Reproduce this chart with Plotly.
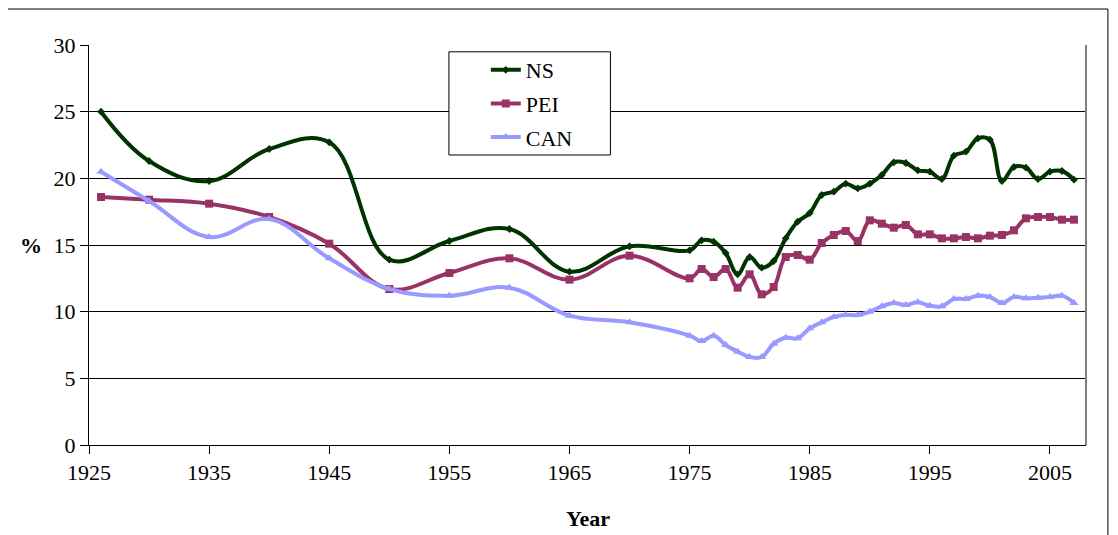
import plotly.graph_objects as go

# Years: 5-year steps up to 1975, then annual
years = [1926, 1930, 1935, 1940, 1945, 1950, 1955, 1960, 1965, 1970, 1975,
         1976, 1977, 1978, 1979, 1980, 1981, 1982, 1983, 1984, 1985,
         1986, 1987, 1988, 1989, 1990, 1991, 1992, 1993, 1994, 1995,
         1996, 1997, 1998, 1999, 2000, 2001, 2002, 2003, 2004, 2005,
         2006, 2007]

ns = [25.0, 21.3, 19.8, 22.2, 22.7, 13.9, 15.3, 16.2, 13.0, 14.9, 14.6,
      15.35, 15.25, 14.4, 12.8, 14.1, 13.3, 13.8, 15.5, 16.75, 17.4,
      18.75, 19.0, 19.6, 19.25, 19.6, 20.25, 21.2, 21.15, 20.6, 20.5,
      19.95, 21.7, 22.0, 23.0, 22.9, 19.8, 20.85, 20.8, 19.95, 20.5,
      20.55, 19.9]

pei = [18.6, 18.4, 18.1, 17.1, 15.1, 11.7, 12.9, 14.0, 12.4, 14.2, 12.5,
       13.2, 12.6, 13.2, 11.8, 12.8, 11.3, 11.85, 14.1, 14.25, 13.9,
       15.15, 15.75, 16.05, 15.3, 16.85, 16.6, 16.3, 16.5, 15.8, 15.8,
       15.5, 15.5, 15.6, 15.5, 15.7, 15.75, 16.1, 17.0, 17.1, 17.1,
       16.9, 16.9]

can = [20.5, 18.3, 15.6, 16.95, 14.0, 11.7, 11.2, 11.8, 9.7, 9.2, 8.2,
       7.8, 8.2, 7.5, 7.0, 6.6, 6.6, 7.6, 8.05, 8.0, 8.75,
       9.2, 9.6, 9.75, 9.75, 10.0, 10.4, 10.65, 10.5, 10.7, 10.45,
       10.4, 10.95, 10.95, 11.2, 11.1, 10.65, 11.1, 11.0, 11.05, 11.1,
       11.2, 10.65]

x_ticks = [1925, 1935, 1945, 1955, 1965, 1975, 1985, 1995, 2005]
y_ticks = [0, 5, 10, 15, 20, 25, 30]

SERIES = [
    ("NS", ns, "#003300", "diamond", 6),
    ("PEI", pei, "#993366", "square", 8),
    ("CAN", can, "#9999FF", "triangle-up", 8),
]

FONT = "Liberation Serif, Times New Roman, serif"

fig = go.Figure()
for name, vals, color, symbol, size in SERIES:
    fig.add_trace(go.Scatter(
        x=years, y=vals, name=name, legendgroup=name,
        mode="lines+markers",
        line=dict(color=color, width=4, shape="spline", smoothing=1.1),
        marker=dict(symbol=symbol, size=size, color=color),
    ))

# page body has an 8px margin, so the figure is shrunk by that much
fig.update_layout(
    width=1110, height=527,
    margin=dict(l=81, r=32, t=37, b=90),
    paper_bgcolor="white", plot_bgcolor="white",
    font=dict(family=FONT, size=22, color="black"),
    showlegend=True,
    legend=dict(
        x=0.398, y=0.99, xanchor="left", yanchor="top",
        bgcolor="rgba(0,0,0,0)", borderwidth=0,
        font=dict(family=FONT, size=22, color="black"),
        tracegroupgap=2,
    ),
    xaxis=dict(
        range=[1925, 2008], tickvals=x_ticks, showgrid=False, zeroline=False,
        showline=True, linecolor="black", linewidth=1,
        ticks="outside", ticklen=8, tickcolor="black",
    ),
    yaxis=dict(
        range=[0, 30], tickvals=y_ticks, showgrid=True, gridcolor="black",
        gridwidth=1, zeroline=False,
        showline=True, linecolor="black", linewidth=1,
        ticks="outside", ticklen=8, tickcolor="black",
    ),
    shapes=[
        # chart area border
        dict(type="rect", xref="paper", yref="paper",
             x0=-0.0822, x1=1.022, y0=-0.25, y1=1.09,
             line=dict(color="black", width=1), layer="below"),
        # plot area right edge
        dict(type="line", xref="paper", yref="paper",
             x0=1, x1=1, y0=0, y1=1,
             line=dict(color="#808080", width=2)),
        # legend box
        dict(type="rect", xref="paper", yref="paper",
             x0=0.361, x1=0.523, y0=0.725, y1=0.983,
             line=dict(color="black", width=1), fillcolor="white",
             layer="above"),
    ],
    annotations=[
        dict(text="<b>%</b>", xref="paper", yref="paper",
             x=-0.0585, y=0.5, xanchor="center", yanchor="middle",
             showarrow=False, font=dict(family=FONT, size=22)),
        dict(text="<b>Year</b>", xref="paper", yref="paper",
             x=0.5, y=-0.183, xanchor="center", yanchor="middle",
             showarrow=False, font=dict(family=FONT, size=22)),
    ],
)

fig.write_html("out.html")
